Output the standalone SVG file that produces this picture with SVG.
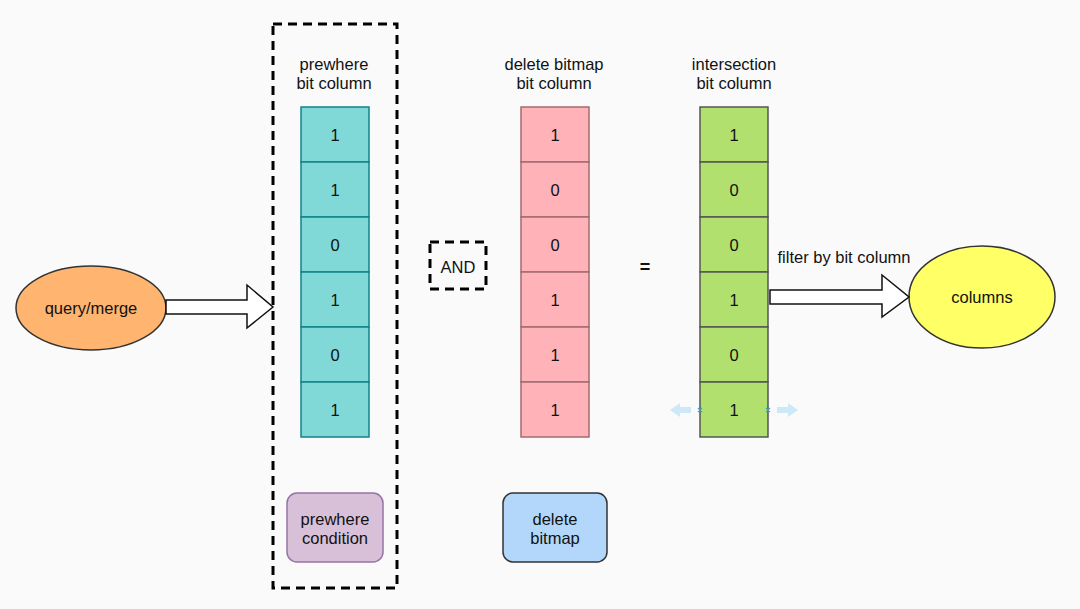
<svg xmlns="http://www.w3.org/2000/svg" width="1080" height="609" viewBox="0 0 1080 609">
<style>
text{font-family:"Liberation Sans",Arial,sans-serif;font-size:16.5px;fill:#111;text-anchor:middle;dominant-baseline:central}
.dash{fill:none;stroke:#000;stroke-width:3;stroke-dasharray:9 6}
.c1{fill:#80D8D7;stroke:#10838A;stroke-width:1.5}
.c2{fill:#FFB3B9;stroke:#A06C70;stroke-width:1.5}
.c3{fill:#B1E06F;stroke:#555;stroke-width:1.5}
.harrow{fill:#fff;stroke:#111;stroke-width:1.5}
.ghost{fill:#CDE9F7;stroke:none}
</style>
<rect width="1080" height="609" fill="#FAFAFA"/>
<g id="query-merge">
<ellipse cx="91" cy="308" rx="75" ry="42" fill="#FFB570" stroke="#333" stroke-width="1.5"/>
<text x="91" y="308">query/merge</text>
</g>
<g id="prewhere-group">
<rect class="dash" x="273" y="24" width="124" height="564"/>
</g>
<g id="prewhere-column">
<text x="334" y="64">prewhere</text>
<text x="334" y="83">bit column</text>
<rect class="c1" x="301" y="107" width="68" height="55"/><text x="335" y="135">1</text>
<rect class="c1" x="301" y="162" width="68" height="55"/><text x="335" y="190">1</text>
<rect class="c1" x="301" y="217" width="68" height="55"/><text x="335" y="245">0</text>
<rect class="c1" x="301" y="272" width="68" height="55"/><text x="335" y="300">1</text>
<rect class="c1" x="301" y="327" width="68" height="55"/><text x="335" y="355">0</text>
<rect class="c1" x="301" y="382" width="68" height="55"/><text x="335" y="410">1</text>
</g>
<g id="and">
<rect class="dash" x="430" y="242" width="56" height="47"/>
<text x="458" y="267">AND</text>
</g>
<g id="delete-column">
<text x="554" y="64">delete bitmap</text>
<text x="554" y="83">bit column</text>
<rect class="c2" x="521" y="107" width="68" height="55"/><text x="555" y="135">1</text>
<rect class="c2" x="521" y="162" width="68" height="55"/><text x="555" y="190">0</text>
<rect class="c2" x="521" y="217" width="68" height="55"/><text x="555" y="245">0</text>
<rect class="c2" x="521" y="272" width="68" height="55"/><text x="555" y="300">1</text>
<rect class="c2" x="521" y="327" width="68" height="55"/><text x="555" y="355">1</text>
<rect class="c2" x="521" y="382" width="68" height="55"/><text x="555" y="410">1</text>
</g>
<g id="equals">
<text x="645" y="267" style="font-weight:bold;font-size:18px">=</text>
</g>
<g id="intersection-column">
<text x="734" y="64">intersection</text>
<text x="734" y="83">bit column</text>
<rect class="c3" x="700" y="107" width="68" height="55"/><text x="734" y="135">1</text>
<rect class="c3" x="700" y="162" width="68" height="55"/><text x="734" y="190">0</text>
<rect class="c3" x="700" y="217" width="68" height="55"/><text x="734" y="245">0</text>
<rect class="c3" x="700" y="272" width="68" height="55"/><text x="734" y="300">1</text>
<rect class="c3" x="700" y="327" width="68" height="55"/><text x="734" y="355">0</text>
<rect class="c3" x="700" y="382" width="68" height="55"/><text x="734" y="410">1</text>
</g>
<g id="columns">
<ellipse cx="982" cy="297" rx="73" ry="51" fill="#FFFF66" stroke="#333" stroke-width="1.5"/>
<text x="982" y="297">columns</text>
</g>
<g id="prewhere-condition">
<rect x="287" y="493" width="96" height="69" rx="10" fill="#D9C0D9" stroke="#9673A6" stroke-width="1.5"/>
<text x="335" y="519">prewhere</text>
<text x="335" y="538">condition</text>
</g>
<g id="delete-bitmap">
<rect x="503" y="493" width="104" height="69" rx="10" fill="#B3D7FA" stroke="#333" stroke-width="1.5"/>
<text x="555" y="519">delete</text>
<text x="555" y="538">bitmap</text>
</g>
<g id="connectors">
<path class="harrow" d="M166,300 H247 V285 L273,307 L247,328 V314 H166 Z"/>
<path class="harrow" d="M770,290 H882 V275 L909,297 L882,317 V304 H770 Z"/>
<text x="844" y="257">filter by bit column</text>
<path class="ghost" d="M670,410 L680,403 V407 H691 V413 H680 V417 Z"/>
<path class="ghost" d="M798,410 L788,403 V407 H777 V413 H788 V417 Z"/>
<path d="M698,408 L702,412 M702,408 L698,412 M766,408 L770,412 M770,408 L766,412" stroke="#29A8E0" stroke-width="1.2"/>
</g>
</svg>
